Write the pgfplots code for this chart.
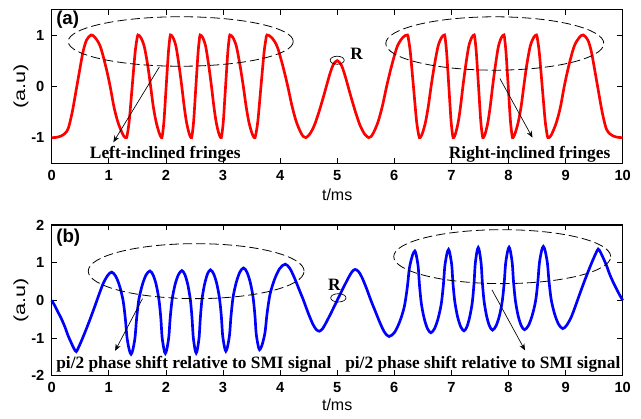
\documentclass[border=0pt]{standalone}
\usepackage{fontspec}
\setmainfont{Liberation Serif}
\setsansfont{Liberation Sans}
\usepackage{graphicx}
\usepackage{pgfplots}
\pgfplotsset{compat=1.18}
\usetikzlibrary{arrows.meta}

\pgfplotsset{
  myaxis/.style={
    scale only axis, width=428.25pt, xmin=0, xmax=10, xtick={0,1,...,10},
    tick pos=both, tick align=inside, major tick length=4pt,
    axis line style={line width=0.8pt},
    every tick/.style={black, line width=0.5pt},
    /pgf/number format/assume math mode=true,
    ticklabel style={font=\sffamily\bfseries\fontsize{11}{13}\selectfont},
    xticklabel style={yshift=-1.5pt},
    yticklabel style={xshift=-2pt},
    xlabel={t/ms}, ylabel={\scalebox{1.35}[1]{(a.u)}},
    every axis y label/.style={at={(axis description cs:-0.054,0.5)},rotate=90,anchor=center,
      font=\sffamily\fontsize{12}{14}\selectfont},
    clip=false,
  },
}
\tikzset{
  ann/.style={font=\bfseries\fontsize{13}{15}\selectfont, inner sep=0pt, anchor=base},
  ell/.style={black, line width=0.6pt, dash pattern=on 7pt off 3pt},
  arr/.style={black, line width=0.5pt, -{Stealth[length=5pt,width=4pt]}},
}

\begin{document}
\begin{tikzpicture}
\path[use as bounding box] (0,0) rectangle (480.75pt,-313.5pt);

% ---------------- (a) ----------------
\begin{axis}[myaxis, at={(38.775pt,-6.975pt)}, anchor=north west,
  height=115.5pt, ymin=-1.5, ymax=1.5, ytick={-1,0,1},
  every axis x label/.style={at={(axis description cs:0.5,-0.206)},anchor=center,
    font=\sffamily\fontsize{12}{14}\selectfont}]
\addplot[red, line width=2pt, smooth] coordinates {
(0,-1)(0.08,-0.995)(0.16,-0.97)(0.23,-0.92)(0.29,-0.82)(0.36,-0.5)(0.44,0)(0.50,0.38)(0.55,0.68)(0.61,0.9)(0.69,1)
(0.76,0.95)(0.85,0.78)(0.94,0.42)(1.02,0.02)(1.09,-0.40)(1.16,-0.70)(1.23,-0.90)(1.27,-0.98)(1.31,-1)
(1.33,-0.9)(1.36,-0.65)(1.41,0)(1.46,0.65)(1.49,0.9)(1.51,1)
(1.56,0.95)(1.62,0.78)(1.68,0.42)(1.73,0.02)(1.78,-0.40)(1.83,-0.70)(1.88,-0.90)(1.91,-0.98)(1.93,-1)
(1.945,-0.9)(1.968,-0.65)(2.005,0)(2.043,0.65)(2.065,0.9)(2.08,1)
(2.124,0.95)(2.176,0.78)(2.228,0.42)(2.276,0.02)(2.321,-0.40)(2.361,-0.70)(2.402,-0.90)(2.428,-0.98)(2.45,-1)
(2.465,-0.9)(2.488,-0.65)(2.525,0)(2.563,0.65)(2.585,0.9)(2.60,1)
(2.644,0.95)(2.696,0.78)(2.748,0.42)(2.796,0.02)(2.841,-0.40)(2.881,-0.70)(2.922,-0.90)(2.948,-0.98)(2.97,-1)
(2.985,-0.9)(3.008,-0.65)(3.045,0)(3.083,0.65)(3.105,0.9)(3.12,1)
(3.173,0.95)(3.234,0.78)(3.296,0.42)(3.353,0.02)(3.406,-0.40)(3.454,-0.70)(3.503,-0.90)(3.534,-0.98)(3.56,-1)
(3.581,-0.9)(3.613,-0.65)(3.665,0)(3.718,0.65)(3.749,0.9)(3.77,1)
(3.852,0.95)(3.947,0.78)(4.042,0.42)(4.130,0.02)(4.212,-0.40)(4.287,-0.70)(4.362,-0.90)(4.409,-0.98)(4.45,-1)
(4.52,-0.93)(4.60,-0.76)(4.68,-0.5)(4.76,-0.2)(4.83,0.08)(4.88,0.27)(4.93,0.42)(5.0,0.5)
(5.07,0.42)(5.12,0.27)(5.17,0.08)(5.24,-0.2)(5.32,-0.5)(5.40,-0.76)(5.48,-0.93)(5.55,-1)
(5.591,-0.98)(5.638,-0.90)(5.713,-0.70)(5.788,-0.40)(5.870,0.02)(5.958,0.42)(6.053,0.78)(6.148,0.95)(6.23,1)
(6.251,0.9)(6.282,0.65)(6.335,0)(6.387,-0.65)(6.419,-0.9)(6.44,-1)
(6.466,-0.98)(6.497,-0.90)(6.546,-0.70)(6.594,-0.40)(6.647,0.02)(6.704,0.42)(6.766,0.78)(6.827,0.95)(6.88,1)
(6.895,0.9)(6.917,0.65)(6.955,0)(6.992,-0.65)(7.015,-0.9)(7.03,-1)
(7.052,-0.98)(7.078,-0.90)(7.119,-0.70)(7.159,-0.40)(7.204,0.02)(7.252,0.42)(7.304,0.78)(7.356,0.95)(7.40,1)
(7.415,0.9)(7.437,0.65)(7.475,0)(7.512,-0.65)(7.535,-0.9)(7.55,-1)
(7.572,-0.98)(7.598,-0.90)(7.639,-0.70)(7.679,-0.40)(7.724,0.02)(7.772,0.42)(7.824,0.78)(7.876,0.95)(7.92,1)
(7.935,0.9)(7.957,0.65)(7.995,0)(8.032,-0.65)(8.055,-0.9)(8.07,-1)
(8.09,-0.98)(8.12,-0.90)(8.17,-0.70)(8.22,-0.40)(8.27,0.02)(8.32,0.42)(8.38,0.78)(8.44,0.95)(8.49,1)
(8.51,0.9)(8.54,0.65)(8.59,0)(8.64,-0.65)(8.67,-0.9)(8.69,-1)
(8.73,-0.98)(8.77,-0.90)(8.84,-0.70)(8.91,-0.40)(8.98,0.02)(9.06,0.42)(9.15,0.78)(9.24,0.95)(9.31,1)
(9.39,0.9)(9.45,0.68)(9.50,0.38)(9.56,0)(9.64,-0.5)(9.71,-0.82)(9.77,-0.92)(9.84,-0.97)(9.92,-0.995)(10,-1)
};
\draw[ell] (axis cs:2.26,0.873) ellipse [x radius=1.97, y radius=0.482];
\draw[ell] (axis cs:7.76,0.834) ellipse [x radius=1.909, y radius=0.52];
\draw[black, line width=0.5pt] (axis cs:5.0,0.508) ellipse [x radius=0.123, y radius=0.078];
\node[font=\bfseries\fontsize{13}{15}\selectfont] at (axis cs:5.34,0.625) {R};
\draw[arr] (axis cs:1.885,0.377) -- (axis cs:1.08,-1.09);
\draw[arr] (axis cs:7.85,0.15) -- (axis cs:8.42,-1.0);
\node[ann] at (axis cs:1.99,-1.40) {Left-inclined fringes};
\node[ann] at (axis cs:8.37,-1.40) {Right-inclined fringes};
\node[font=\sffamily\bfseries\fontsize{14}{16}\selectfont] at (axis cs:0.28,1.29) {(a)};
\end{axis}

% ---------------- (b) ----------------
\begin{axis}[myaxis, at={(38.775pt,-168.75pt)}, anchor=north west,
  height=113pt, ymin=-2, ymax=2, ytick={-2,-1,0,1,2},
  every axis x label/.style={at={(axis description cs:0.5,-0.195)},anchor=center,
    font=\sffamily\fontsize{12}{14}\selectfont}]
\addplot[blue, line width=2pt, smooth] coordinates {
(0,0)(0.06,-0.16)(0.12,-0.34)(0.17,-0.49)(0.23,-0.7)(0.285,-0.93)(0.34,-1.12)(0.39,-1.28)(0.43,-1.36)
(0.47,-1.25)(0.52,-1.08)(0.58,-0.86)(0.66,-0.55)(0.75,-0.18)(0.83,0.16)(0.90,0.44)(0.98,0.66)(1.05,0.75)
(1.121,0.64)(1.189,0.38)(1.251,-0.01)(1.291,-0.51)(1.319,-0.99)(1.359,-1.32)(1.39,-1.43)
(1.42,-1.32)(1.459,-0.99)(1.486,-0.50)(1.525,0.01)(1.585,0.40)(1.651,0.67)(1.72,0.78)
(1.777,0.67)(1.831,0.41)(1.879,0.01)(1.912,-0.49)(1.933,-0.97)(1.966,-1.30)(1.99,-1.41)
(2.016,-1.30)(2.051,-0.97)(2.074,-0.49)(2.109,0.02)(2.161,0.42)(2.219,0.68)(2.28,0.79)
(2.333,0.68)(2.383,0.42)(2.428,0.02)(2.458,-0.48)(2.478,-0.96)(2.508,-1.29)(2.53,-1.40)
(2.553,-1.29)(2.583,-0.96)(2.603,-0.47)(2.633,0.04)(2.678,0.43)(2.728,0.70)(2.78,0.81)
(2.837,0.70)(2.891,0.44)(2.939,0.05)(2.972,-0.44)(2.993,-0.92)(3.026,-1.24)(3.05,-1.35)
(3.078,-1.24)(3.115,-0.91)(3.14,-0.42)(3.177,0.09)(3.233,0.48)(3.295,0.75)(3.36,0.86)
(3.419,0.75)(3.475,0.49)(3.525,0.10)(3.559,-0.40)(3.581,-0.88)(3.615,-1.20)(3.64,-1.31)
(3.681,-1.20)(3.735,-0.86)(3.771,-0.36)(3.825,0.17)(3.906,0.57)(3.996,0.85)(4.09,0.96)
(4.17,0.85)(4.25,0.6)(4.33,0.3)(4.41,0.0)(4.49,-0.33)(4.57,-0.62)(4.63,-0.77)(4.69,-0.82)
(4.75,-0.74)(4.82,-0.55)(4.91,-0.28)(5.0,0)
(5.09,0.28)(5.18,0.55)(5.25,0.74)(5.31,0.82)(5.37,0.77)(5.43,0.62)(5.51,0.33)(5.59,0)
(5.67,-0.3)(5.75,-0.6)(5.83,-0.85)(5.91,-0.96)
(6.004,-0.85)(6.094,-0.57)(6.175,-0.17)(6.229,0.36)(6.265,0.86)(6.319,1.20)(6.36,1.31)
(6.385,1.20)(6.419,0.88)(6.441,0.40)(6.475,-0.10)(6.525,-0.49)(6.581,-0.75)(6.64,-0.86)
(6.705,-0.75)(6.767,-0.48)(6.823,-0.09)(6.86,0.42)(6.885,0.91)(6.922,1.24)(6.95,1.35)
(6.974,1.24)(7.007,0.92)(7.028,0.44)(7.061,-0.05)(7.109,-0.44)(7.163,-0.70)(7.22,-0.81)
(7.272,-0.70)(7.322,-0.43)(7.367,-0.04)(7.397,0.47)(7.417,0.96)(7.447,1.29)(7.47,1.40)
(7.492,1.29)(7.522,0.96)(7.542,0.48)(7.572,-0.02)(7.617,-0.42)(7.667,-0.68)(7.72,-0.79)
(7.781,-0.68)(7.839,-0.42)(7.891,-0.02)(7.926,0.49)(7.949,0.97)(7.984,1.30)(8.01,1.41)
(8.034,1.30)(8.067,0.97)(8.088,0.49)(8.121,-0.01)(8.169,-0.41)(8.223,-0.67)(8.28,-0.78)
(8.349,-0.67)(8.415,-0.40)(8.475,-0.01)(8.514,0.50)(8.541,0.99)(8.58,1.32)(8.61,1.43)
(8.641,1.32)(8.681,0.99)(8.709,0.51)(8.749,0.01)(8.811,-0.38)(8.879,-0.64)(8.95,-0.75)
(9.02,-0.66)(9.10,-0.44)(9.17,-0.16)(9.25,0.18)(9.34,0.55)(9.42,0.86)(9.48,1.08)(9.53,1.25)(9.57,1.36)
(9.61,1.28)(9.66,1.12)(9.715,0.93)(9.77,0.7)(9.83,0.49)(9.88,0.34)(9.94,0.16)(10,0)
};
\draw[ell] (axis cs:2.53,0.775) ellipse [x radius=1.89, y radius=0.73];
\draw[ell] (axis cs:7.89,1.16) ellipse [x radius=1.90, y radius=0.716];
\draw[black, line width=0.5pt] (axis cs:5.02,0.066) ellipse [x radius=0.134, y radius=0.11];
\node[font=\bfseries\fontsize{13}{15}\selectfont] at (axis cs:4.95,0.40) {R};
\draw[arr] (axis cs:1.59,0.045) -- (axis cs:1.11,-1.34);
\draw[arr] (axis cs:7.71,0.28) -- (axis cs:8.29,-1.33);
\node[ann] at (axis cs:2.49,-1.81) {pi/2 phase shift relative to SMI signal};
\node[ann] at (axis cs:7.55,-1.81) {pi/2 phase shift relative to SMI signal};
\node[font=\sffamily\bfseries\fontsize{14}{16}\selectfont] at (axis cs:0.29,1.66) {(b)};
\end{axis}
\end{tikzpicture}
\end{document}
